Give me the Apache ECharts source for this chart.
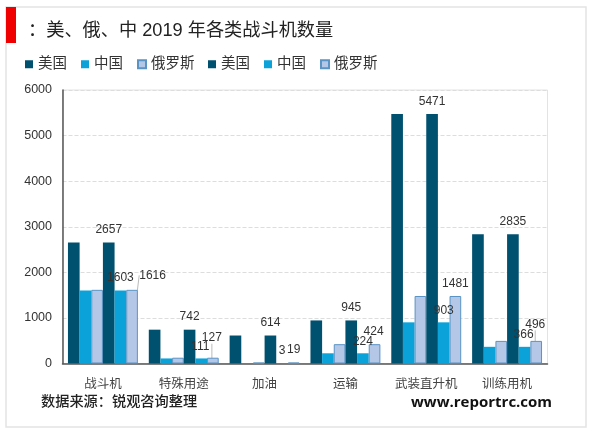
<!DOCTYPE html>
<html><head><meta charset="utf-8">
<style>html,body{margin:0;padding:0;background:#fff}#c{width:600px;height:433px}</style>
<script src="https://cdn.jsdelivr.net/npm/echarts@6/dist/echarts.min.js"></script>
</head><body><div id="c"></div>
<script>
const categories = ['战斗机','特殊用途','加油','运输','武装直升机','训练用机'];
const usa = [2657,742,614,945,5471,2835];
const china = [1603,111,3,224,903,366];
const russia = [1616,127,19,424,1481,496];
const legendNames = ['美国','中国','俄罗斯'];
const yTicks = [0,1000,2000,3000,4000,5000,6000];
const titleText = '：美、俄、中 2019 年各类战斗机数量';
const sourceText = '数据来源：锐观咨询整理';
const siteText = 'www.reportrc.com';

const FONT = '"Liberation Sans","Noto Sans CJK SC",sans-serif';
const COL = {us:'#00506f', cn:'#0aa2d9', ru:'#b4c7e7'};
// label nudges (dx, dy) per category
const usNudge = [[0,-5],[0,-5],[0,-5],[0,-5],[0,-4],[0,-5]];
const cnNudge = [[0,-5],[-1,-4],[0,-5],[0,-4],[0,-4],[-1,-4.5]];
const ruNudge = [[20.5,-6.5],[-1,-12],[0,-5],[-1,-4],[0,-4],[-1,-8.5]];
const ruLeader = [0,1,5]; // categories whose Russia label has a leader line

function barSeries(name, values, color, extra){
  return Object.assign({
    name, type:'bar', data:values, barGap:0, barCategoryGap:'13.5%',
    itemStyle:{color}, silent:true
  }, extra||{});
}
function labelled(nudge){
  return {
    label:{show:true, position:'top', fontFamily:FONT, fontSize:12, color:'#333', distance:2},
    labelLayout:(p)=>({dx:nudge[p.dataIndex][0], dy:nudge[p.dataIndex][1]}),
    labelLine:{show:false}
  };
}
const ruStyle = {color:COL.ru, borderColor:'#5a93c4', borderWidth:1};
const russiaLabelled = russia.map((v,i)=> ruLeader.includes(i)
  ? {value:v, labelLine:{show:true, lineStyle:{color:'#bbb', width:1}}} : v);

const legendBase = {data:legendNames, top:52, itemWidth:8, itemHeight:8, itemGap:14, icon:'rect',
  textStyle:{fontFamily:FONT, fontSize:14.5, color:'#333'}, selectedMode:false};

const option = {
  animation:false,
  backgroundColor:'#fff',
  textStyle:{fontFamily:FONT},
  legend:[
    Object.assign({left:20},legendBase),
    Object.assign({left:203},legendBase)
  ],
  grid:{left:62.5, top:90, width:485, height:273.5, show:true, borderColor:'#e3e3e3', borderWidth:1, backgroundColor:'transparent'},
  xAxis:{type:'category', data:categories,
    axisLine:{show:true,lineStyle:{color:'#555',width:1.5}}, axisTick:{show:false},
    axisLabel:{fontFamily:FONT,fontSize:12.5,color:'#444',margin:14.5,interval:0}},
  yAxis:{type:'value', min:yTicks[0], max:yTicks[yTicks.length-1], interval:yTicks[1]-yTicks[0],
    axisLine:{show:true,lineStyle:{color:'#555',width:1.5}}, axisTick:{show:false},
    splitLine:{show:true,lineStyle:{color:'#ddd',type:'dashed',width:1}},
    axisLabel:{fontFamily:FONT,fontSize:12.5,color:'#333',margin:10.5,formatter:(v)=>String(v)}},
  series:[
    barSeries(legendNames[0],usa,COL.us),
    barSeries(legendNames[1],china,COL.cn),
    barSeries(legendNames[2],russia,COL.ru,{itemStyle:ruStyle}),
    barSeries(legendNames[0],usa,COL.us,labelled(usNudge)),
    barSeries(legendNames[1],china,COL.cn,labelled(cnNudge)),
    barSeries(legendNames[2],russiaLabelled,COL.ru,Object.assign({itemStyle:ruStyle},labelled(ruNudge)))
  ],
  graphic:[
    {type:'rect',silent:true,z:-1,shape:{x:6,y:7,width:580,height:420},style:{fill:'#fff',stroke:'#e4e4e4',lineWidth:1.5}},
    {type:'rect',silent:true,shape:{x:6,y:7,width:10,height:36},style:{fill:'#f00000'}},
    {type:'text',silent:true,left:28,top:22,style:{text:titleText,font:'18.2px '+FONT,fill:'#222'}},
    {type:'text',silent:true,left:41,top:395,style:{text:sourceText,font:'500 14.2px '+FONT,fill:'#222'}},
    {type:'text',silent:true,left:411,top:395,style:{text:siteText,font:'bold 15px "Open Sans",sans-serif',fill:'#111'}}
  ]
};
const chart = echarts.init(document.getElementById('c'),null,{renderer:'canvas'});
chart.setOption(option);
</script></body></html>
